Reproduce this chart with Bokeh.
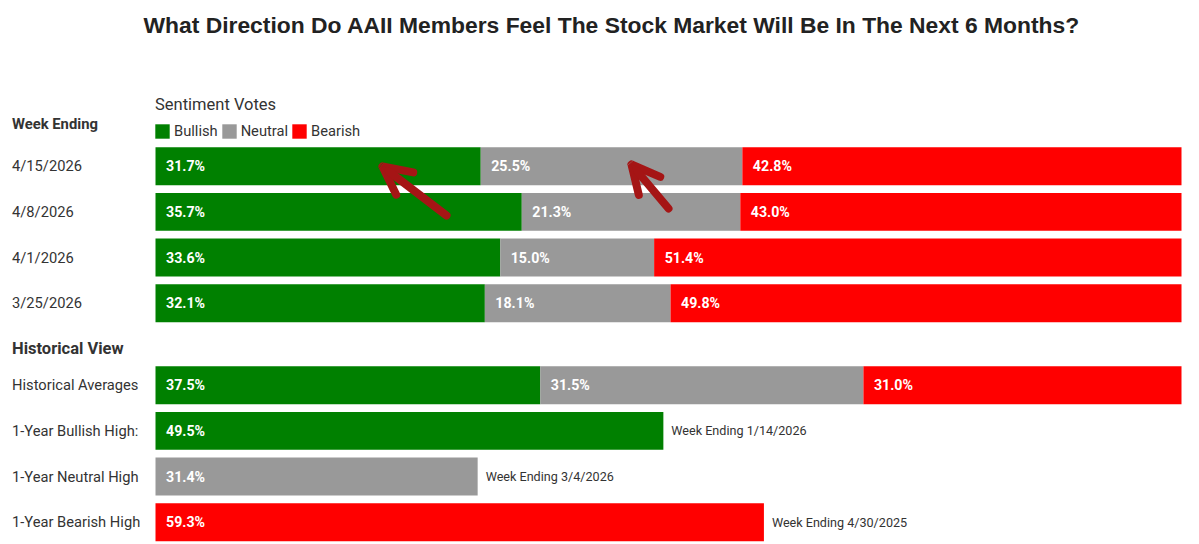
from bokeh.core.properties import value
from bokeh.embed import file_html
from bokeh.models import (Arrow, ColumnDataSource, Label, LabelSet, Legend,
                          LegendItem, OpenHead, Range1d)
from bokeh.plotting import figure
from bokeh.resources import INLINE

# rows, top to bottom
week_rows = ["4/15/2026", "4/8/2026", "4/1/2026", "3/25/2026"]
hist_rows = ["Historical Averages", "1-Year Bullish High:", "1-Year Neutral High", "1-Year Bearish High"]

# sentiment votes in percent
bullish = [31.7, 35.7, 33.6, 32.1, 37.5, 49.5, 0, 0]
neutral = [25.5, 21.3, 15.0, 18.1, 31.5, 0, 31.4, 0]
bearish = [42.8, 43.0, 51.4, 49.8, 31.0, 0, 0, 59.3]

# notes next to the one-year highs
high_notes = ["", "", "", "", "", "Week Ending 1/14/2026", "Week Ending 3/4/2026", "Week Ending 4/30/2025"]

GREEN = "#008000"
GREY = "#999999"
RED = "#ff0000"
DARK = "#333333"
ARROW = "#a51515"
FONT = "Roboto"

WIDTH = 1199
HEIGHT = 544
X0, X100 = 155, 1181     # pixels of 0 % and 100 %
ROW_Y0, ROW_STEP = 165.7, 45.68     # pixel of the first row and row spacing
GROUP_GAP = 0.794


def sy(py):
    # page pixel to screen y, measured up from the bottom
    return HEIGHT - py


labels = week_rows + hist_rows
row_y = [i for i in range(len(week_rows))] + [i + len(week_rows) + GROUP_GAP for i in range(len(hist_rows))]

px_per_pct = (X100 - X0) / 100
p = figure(width=WIDTH, height=HEIGHT, output_backend="svg", toolbar_location=None,
           x_range=Range1d(-X0 / px_per_pct, (WIDTH - X0) / px_per_pct),
           y_range=Range1d((HEIGHT - ROW_Y0) / ROW_STEP, -ROW_Y0 / ROW_STEP),
           min_border=0)
p.axis.visible = False
p.grid.visible = False
p.outline_line_color = None

source = ColumnDataSource(dict(y=row_y, Bullish=bullish, Neutral=neutral, Bearish=bearish))
bars = p.hbar_stack(["Bullish", "Neutral", "Bearish"], y="y", height=0.83,
                    color=[GREEN, GREY, RED], line_color=None, source=source)

# value labels at the start of every segment
label_x, label_y, label_text = [], [], []
for y, b, n, r in zip(row_y, bullish, neutral, bearish):
    start = 0
    for v in (b, n, r):
        if v > 0:
            label_x.append(start)
            label_y.append(y)
            label_text.append(f"{v:.1f}%")
        start += v
p.add_layout(LabelSet(x="x", y="y", text="text", x_offset=10.5, text_baseline="middle",
                      text_color="white", text_font=value(FONT), text_font_style="bold",
                      text_font_size="14.2px",
                      source=ColumnDataSource(dict(x=label_x, y=label_y, text=label_text))))

# row names on the left
p.add_layout(LabelSet(x="x", y="y", text="text", x_units="screen", text_baseline="middle",
                      text_color=DARK, text_font=value(FONT), text_font_size="14.7px",
                      source=ColumnDataSource(dict(x=[11.5] * len(labels), y=row_y, text=labels))))

# week-ending notes after the single bars
totals = [b + n + r for b, n, r in zip(bullish, neutral, bearish)]
note_idx = [i for i, t in enumerate(high_notes) if t]
p.add_layout(LabelSet(x="x", y="y", text="text", x_offset=8, text_baseline="middle",
                      text_color=DARK, text_font=value(FONT), text_font_size="12.6px",
                      source=ColumnDataSource(dict(x=[totals[i] for i in note_idx],
                                                   y=[row_y[i] for i in note_idx],
                                                   text=[high_notes[i] for i in note_idx]))))


def add_text(text, x, y, size, style="normal", font=FONT, color=DARK):
    p.add_layout(Label(x=x, y=sy(y), x_units="screen", y_units="screen", text=text,
                       text_baseline="middle", text_font=font, text_font_size=size,
                       text_font_style=style, text_color=color))


add_text("What Direction Do AAII Members Feel The Stock Market Will Be In The Next 6 Months?",
         143, 24.5, "22.85px", "bold", "Liberation Sans", "#222222")
add_text("Sentiment Votes", 154.5, 104, "16.5px")
add_text("Week Ending", 11.5, 123.5, "14.8px", "bold")
add_text("Historical View", 11.5, 347.5, "16.5px", "bold")

legend = Legend(items=[LegendItem(label=name, renderers=[r])
                       for name, r in zip(["Bullish", "Neutral", "Bearish"], bars)],
                orientation="horizontal", location=(X0 - 2, sy(140)), margin=0, padding=0, spacing=2,
                glyph_width=18, glyph_height=18, label_standoff=3,
                label_text_font=FONT, label_text_font_size="14.7px", label_text_color=DARK,
                background_fill_alpha=0, border_line_alpha=0)
p.add_layout(legend)

# the two hand-drawn arrows
for tail, tip in [((446, 215), (382, 166)), ((668, 208), (631, 164))]:
    p.add_layout(Arrow(end=OpenHead(size=28, line_color=ARROW, line_width=8, line_cap="round"),
                       x_start=tail[0], y_start=sy(tail[1]), x_end=tip[0], y_end=sy(tip[1]),
                       start_units="screen", end_units="screen",
                       line_color=ARROW, line_width=8, line_cap="round"))

open("out.html", "w").write(file_html(p, INLINE))
